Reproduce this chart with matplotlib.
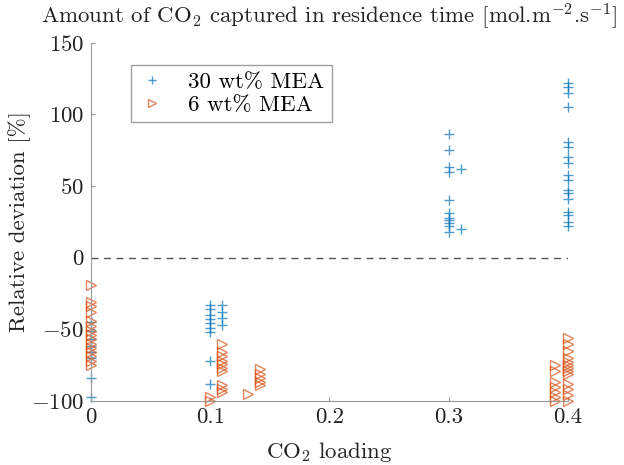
import matplotlib
matplotlib.use('Agg')
import matplotlib.pyplot as plt
import numpy as np

plt.rcParams['font.family'] = 'serif'
plt.rcParams['font.serif'] = ['cmr10', 'DejaVu Serif']
plt.rcParams['mathtext.fontset'] = 'cm'
plt.rcParams['axes.unicode_minus'] = False
plt.rcParams['axes.formatter.use_mathtext'] = True

# 30 wt% MEA: (CO2 loading, relative deviation %)
mea30_x = [0.0] * 8 + [0.1] * 9 + [0.11] * 4 + [0.3] * 11 + [0.31] * 2 + [0.4] * 17
mea30_y = [-45, -51, -57, -62, -66, -70, -84, -97,
           -33, -36, -40, -43, -46, -49, -52, -72, -88,
           -33, -38, -42, -47,
           86, 75, 63, 60, 40, 31, 28, 26, 24, 22, 18,
           62, 20,
           122, 119, 115, 105, 81, 77, 70, 66, 58, 54, 47, 45, 41, 32, 30, 25, 22]

# 6 wt% MEA
mea6_x = ([0.0] * 15 + [0.1] * 2 + [0.11] * 10 + [0.132] + [0.142] * 5
          + [0.389] * 7 + [0.4] * 13)
mea6_y = [-19, -31, -34, -38, -44, -48, -51, -54, -57, -60, -63, -66, -69, -72, -75,
          -97, -100,
          -60, -66, -69, -72, -74, -77, -79, -89, -92, -94,
          -95,
          -78, -81, -84, -87, -89,
          -75, -79, -87, -90, -94, -97, -100,
          -56, -60, -65, -70, -73, -75, -77, -79, -81, -88, -92, -96, -100]

fig = plt.figure(figsize=(6.24, 4.65), dpi=100)
ax = fig.add_axes([0.146, 0.138, 0.764, 0.77])

blue = '#0072BD'
orange = '#D95319'

ax.plot(mea30_x, mea30_y, '+', color=blue, markersize=7, markeredgewidth=1.0,
        alpha=0.7, label='30 wt% MEA', clip_on=False)
ax.plot(mea6_x, mea6_y, '>', color=orange, markerfacecolor='none', markersize=6.5,
        markeredgewidth=1.0, alpha=0.7, label='6 wt% MEA', clip_on=False)
ax.axhline(0, color='#555555', linestyle='--', linewidth=1.0, dashes=(5, 4))

ax.set_xlim(0, 0.4)
ax.set_ylim(-100, 150)
ax.set_xticks([0, 0.1, 0.2, 0.3, 0.4])
ax.set_xticklabels(['0', '0.1', '0.2', '0.3', '0.4'])
ax.set_yticks([-100, -50, 0, 50, 100, 150])

for side in ['top', 'right']:
    ax.spines[side].set_visible(False)
for side in ['left', 'bottom']:
    ax.spines[side].set_color('#999999')
ax.tick_params(direction='in', length=3, color='#999999', labelsize=16.5,
               labelcolor='#222222', pad=5)

ax.set_xlabel('CO$_2$ loading', fontsize=16.5, color='#222222', labelpad=9)
ax.set_ylabel('Relative deviation [%]', fontsize=16.5, color='#222222', labelpad=0)
ax.set_title('Amount of CO$_2$ captured in residence time [mol.m$^{-2}$.s$^{-1}$]',
             fontsize=16.5, color='#222222', pad=14)

leg = ax.legend(loc='upper left', bbox_to_anchor=(0.06, 0.97), fontsize=16.5,
                frameon=True, fancybox=False, edgecolor='#888888',
                handlelength=1.2, handletextpad=1.0, borderpad=0.3,
                labelspacing=0.15, markerscale=0.8)
leg.get_frame().set_linewidth(1.0)

fig.savefig('out.png', dpi=100)
